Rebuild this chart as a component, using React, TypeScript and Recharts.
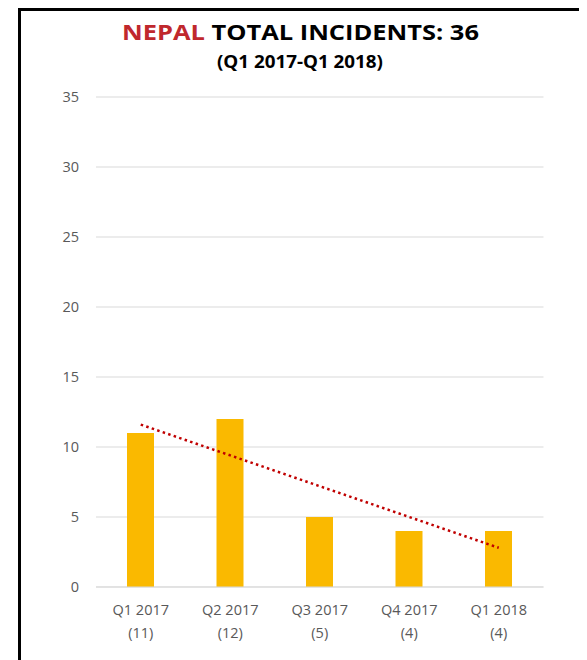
import { ComposedChart, Bar, Line, XAxis, YAxis, CartesianGrid } from 'recharts'

const quarters = ['Q1 2017', 'Q2 2017', 'Q3 2017', 'Q4 2017', 'Q1 2018']
const incidents = [11, 12, 5, 4, 4]
// dotted trend line
const trend = [11.6, 9.4, 7.2, 5.0, 2.8]
const yTicks = [0, 5, 10, 15, 20, 25, 30, 35]

const data = quarters.map((q, i) => ({ quarter: q, count: incidents[i], trend: trend[i] }))

const FONT = '"Open Sans", sans-serif'
const GREY = '#595959'

const QuarterTick = ({ x, y, payload, index }: any) => (
  <g transform={`translate(${x},${y})`}>
    <text textAnchor="middle" fill={GREY} fontSize={14.5} fontFamily={FONT}>
      <tspan x={0} dy={26}>{payload.value}</tspan>
      <tspan x={0} dy={23}>({incidents[index]})</tspan>
    </text>
  </g>
)

export default function App() {
  return (
    <>
      <style>{'html, body { overflow: hidden; }'}</style>
      <div
        style={{
          marginLeft: 10,
          width: 566,
          height: 649,
          borderTop: '3px solid #000',
          borderLeft: '3px solid #000',
          position: 'relative',
          overflow: 'hidden',
          background: '#fff',
        }}
      >
        <svg width={566} height={80} style={{ position: 'absolute', left: 0, top: 0 }}>
          <text
            x={279.5}
            y={29}
            textAnchor="middle"
            fontFamily={FONT}
            fontWeight={700}
            fontSize={21}
            textLength={357}
            lengthAdjust="spacingAndGlyphs"
          >
            <tspan fill="#C0282D">NEPAL</tspan>
            <tspan fill="#000"> TOTAL INCIDENTS: 36</tspan>
          </text>
          <text
            x={279}
            y={57}
            textAnchor="middle"
            fontFamily={FONT}
            fontWeight={700}
            fontSize={17}
            fill="#000"
            textLength={166}
            lengthAdjust="spacingAndGlyphs"
          >
            (Q1 2017-Q1 2018)
          </text>
        </svg>

        <ComposedChart
          width={566}
          height={649}
          data={data}
          margin={{ top: 86, right: 43.5, left: 15, bottom: 13 }}
        >
          <CartesianGrid vertical={false} stroke="#d9d9d9" />
          <XAxis
            dataKey="quarter"
            height={60}
            tickLine={false}
            tickSize={0}
            axisLine={{ stroke: '#d9d9d9' }}
            interval={0}
            tick={<QuarterTick />}
          />
          <YAxis
            width={60}
            domain={[0, 35]}
            ticks={yTicks}
            tickLine={false}
            axisLine={false}
            tickSize={0}
            tickMargin={17}
            tick={{ fill: GREY, fontSize: 14.5, fontFamily: FONT }}
          />
          <Bar dataKey="count" fill="#FAB900" barSize={27} isAnimationActive={false} />
          <Line
            dataKey="trend"
            stroke="#C00000"
            strokeWidth={2.5}
            strokeDasharray="2.5 3.3"
            dot={false}
            activeDot={false}
            isAnimationActive={false}
          />
        </ComposedChart>
      </div>
    </>
  )
}
